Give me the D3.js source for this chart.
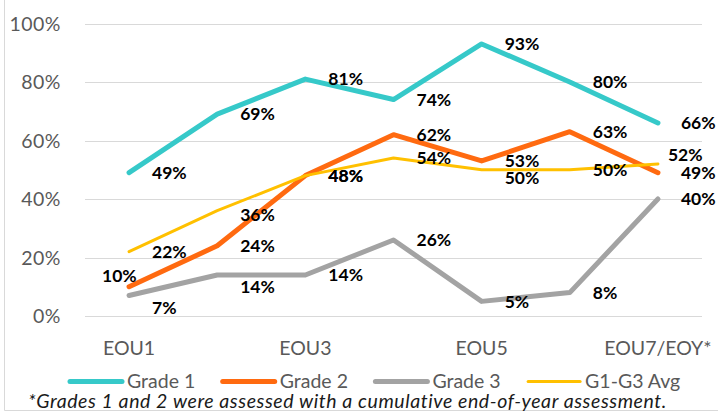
<!DOCTYPE html>
<html>
<head>
<meta charset="utf-8">
<script src="https://cdn.jsdelivr.net/npm/d3@7"></script>
<style>
  html, body { margin: 0; padding: 0; background: #fff; }
  svg { display: block; font-family: Lato, 'Open Sans', sans-serif; }
</style>
</head>
<body>
<div id="chart"></div>
<script>
const categories = ['EOU1', 'EOU2', 'EOU3', 'EOU4', 'EOU5', 'EOU6', 'EOU7/EOY*'];
const grade1 = [49, 69, 81, 74, 93, 80, 66];
const grade2 = [10, 24, 48, 62, 53, 63, 49];
const grade3 = [7, 14, 14, 26, 5, 8, 40];
const avgG1G3 = [22, 36, 48, 54, 50, 50, 52];
const yTicks = [0, 20, 40, 60, 80, 100];
const footnote = '*Grades 1 and 2 were assessed with a cumulative end-of-year assessment.';

const series = [
  { name: 'Grade 1', values: grade1, color: '#36C9C9', width: 5 },
  { name: 'Grade 2', values: grade2, color: '#FF6A10', width: 5 },
  { name: 'Grade 3', values: grade3, color: '#A3A3A3', width: 5 },
  { name: 'G1-G3 Avg', values: avgG1G3, color: '#FFC000', width: 3 }
];

// hand-placed labels (as in the original), offsets from the default right position
const labelNudge = {
  'Grade 2-0': { dx: -50, dy: -11 },
  'Grade 3-0': { dx: 0, dy: 12 },
  'Grade 3-1': { dx: 0, dy: 12 },
  'G1-G3 Avg-1': { dx: 0, dy: 4 },
  'G1-G3 Avg-4': { dx: 0, dy: 8 },
  'G1-G3 Avg-6': { dx: -13, dy: -9 }
};

const width = 718, height = 416;
const plot = { left: 85, right: 702, top: 23.5, bottom: 316 };

const svg = d3.select('#chart').append('svg')
  .attr('width', width)
  .attr('height', height);

const x = d3.scaleBand()
  .domain(categories)
  .range([plot.left, plot.right]);
const y = d3.scaleLinear()
  .domain([0, 100])
  .range([plot.bottom, plot.top]);
const cx = d => x(d) + x.bandwidth() / 2;

// frame (only left and bottom edge visible)
svg.append('path')
  .attr('d', `M4.5,0V410.5H${width}`)
  .attr('fill', 'none')
  .attr('stroke', '#d9d9d9');

// gridlines
svg.append('g').selectAll('line')
  .data(yTicks)
  .enter().append('line')
  .attr('x1', plot.left).attr('x2', plot.right)
  .attr('y1', d => Math.round(y(d)) + 0.5)
  .attr('y2', d => Math.round(y(d)) + 0.5)
  .attr('stroke', '#d9d9d9');

// y labels
svg.append('g').selectAll('text')
  .data(yTicks)
  .enter().append('text')
  .attr('x', 61)
  .attr('y', d => y(d))
  .attr('dy', '0.36em')
  .attr('text-anchor', 'end')
  .attr('font-size', 19.5)
  .attr('letter-spacing', 0.5)
  .attr('fill', '#595959')
  .text(d => d + '%');

// x labels, every other category
svg.append('g').selectAll('text')
  .data(categories.filter((d, i) => i % 2 === 0))
  .enter().append('text')
  .attr('x', d => cx(d))
  .attr('y', 355)
  .attr('text-anchor', 'middle')
  .attr('font-size', 19.5)
  .attr('fill', '#595959')
  .text(d => d);

const line = d3.line()
  .x((d, i) => cx(categories[i]))
  .y(d => y(d));

// lines
svg.append('g').selectAll('path')
  .data(series)
  .enter().append('path')
  .attr('d', s => line(s.values))
  .attr('fill', 'none')
  .attr('stroke', s => s.color)
  .attr('stroke-width', s => s.width)
  .attr('stroke-linejoin', 'round')
  .attr('stroke-linecap', 'round');

// data labels
series.forEach(s => {
  svg.append('g').selectAll('text')
    .data(s.values)
    .enter().append('text')
    .attr('x', (d, i) => cx(categories[i]) + 23 + ((labelNudge[s.name + '-' + i] || {}).dx || 0))
    .attr('y', (d, i) => y(d) + ((labelNudge[s.name + '-' + i] || {}).dy || 0))
    .attr('dy', '0.36em')
    .attr('font-size', 17.5)
    .attr('font-weight', 'bold')
    .attr('fill', '#000')
    .text(d => d + '%');
});

// legend
const legend = svg.append('g').selectAll('g')
  .data(series)
  .enter().append('g')
  .attr('transform', (d, i) => `translate(${70 + i * 152.7},381.5)`);
legend.append('line')
  .attr('x1', 0).attr('x2', 52)
  .attr('stroke', d => d.color)
  .attr('stroke-width', d => d.width)
  .attr('stroke-linecap', 'round');
legend.append('text')
  .attr('x', 57)
  .attr('dy', '0.34em')
  .attr('font-size', 19.5)
  .attr('fill', '#595959')
  .text(d => d.name);

// footnote
svg.append('text')
  .attr('x', 28)
  .attr('y', 407.5)
  .attr('font-size', 19.5)
  .attr('font-style', 'italic')
  .attr('letter-spacing', 0.58)
  .attr('fill', '#1a1a1a')
  .text(footnote);
</script>
</body>
</html>
